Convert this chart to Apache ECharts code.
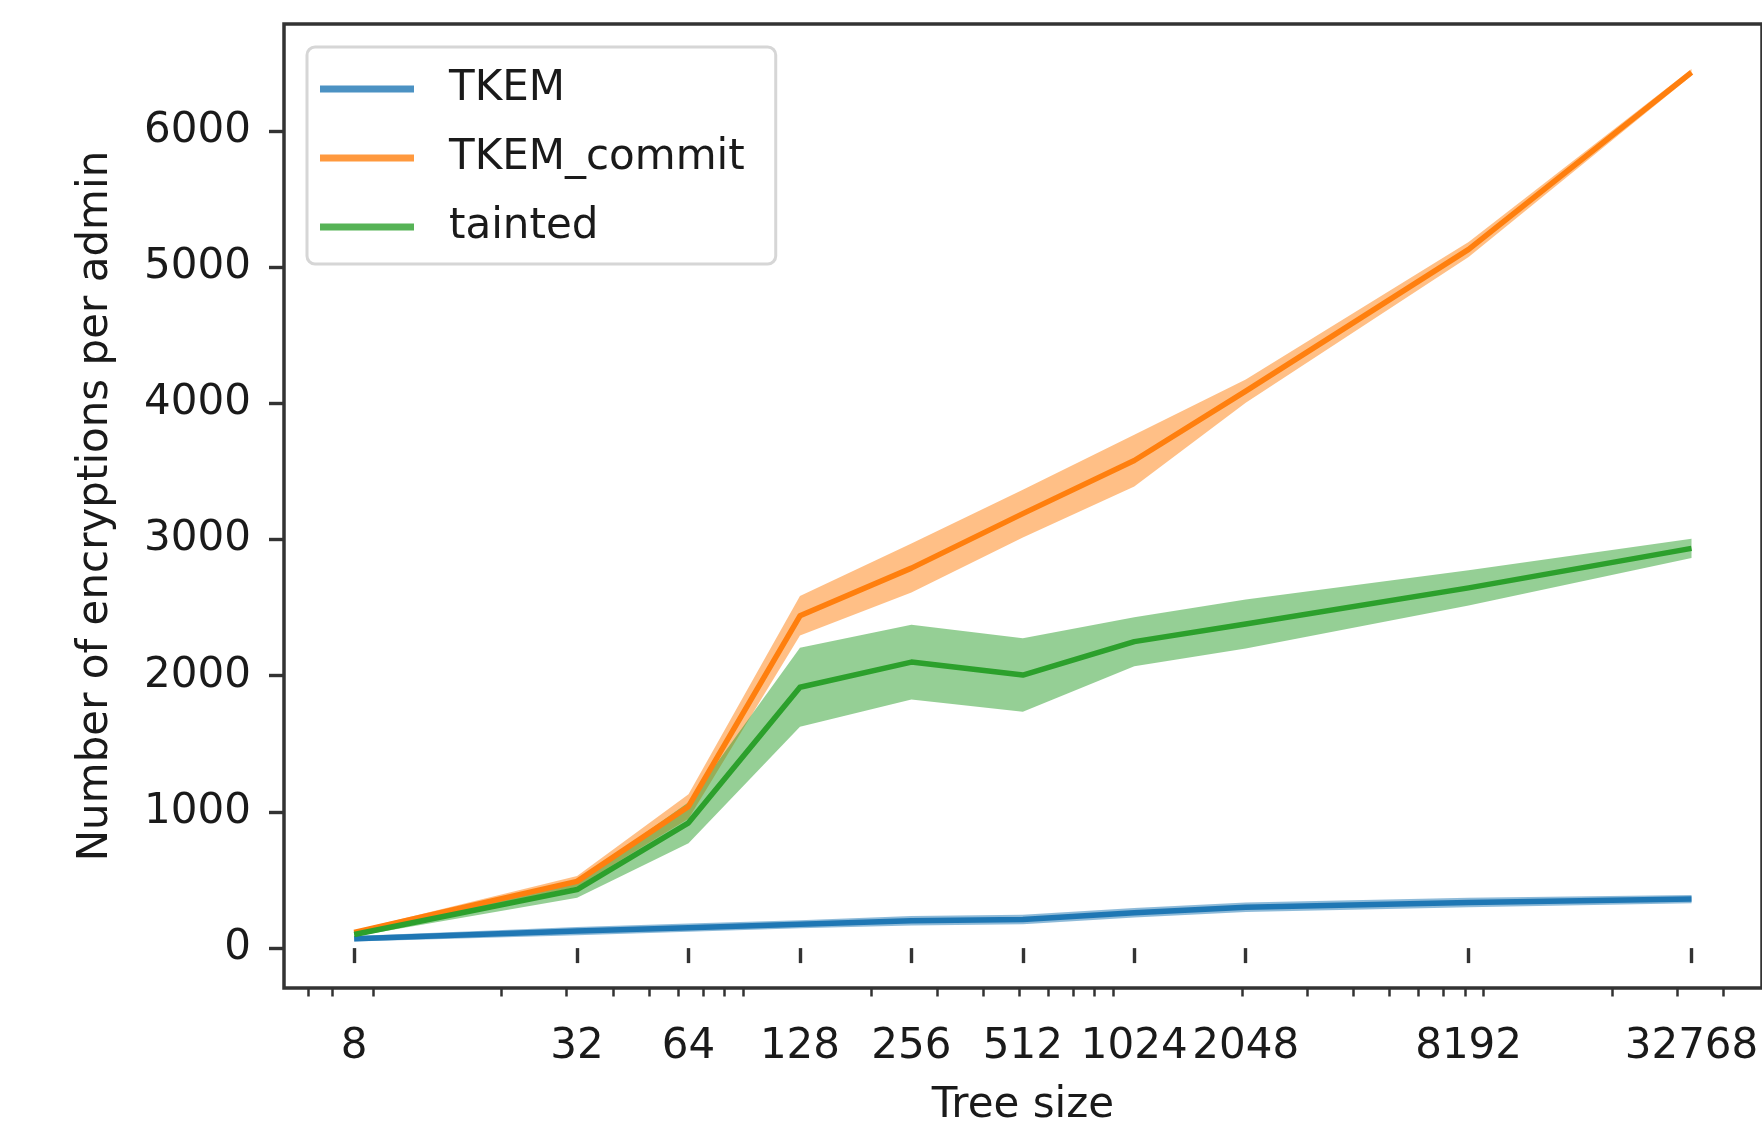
<!DOCTYPE html>
<html><head><meta charset="utf-8">
<script src="https://cdn.jsdelivr.net/npm/echarts@6/dist/echarts.min.js"></script>
<style>html,body{margin:0;padding:0;background:#fff;}#c{width:1762px;height:1132px;}</style>
</head><body><div id="c"></div>
<script>
// ---- data ----
const treeSizes = [8, 32, 64, 128, 256, 512, 1024, 2048, 8192, 32768];
const tkemMean = [68, 125, 150, 175, 200, 210, 260, 300, 335, 360];
const tkemSpread = [20, 30, 30, 30, 35, 35, 35, 35, 35, 30];
const commitMean = [115, 490, 1040, 2440, 2790, 3190, 3580, 4090, 5130, 6430];
const commitSpread = [15, 40, 90, 145, 180, 175, 190, 85, 55, 25];
const taintedMean = [100, 430, 920, 1915, 2100, 2005, 2250, 2380, 2645, 2935];
const taintedSpread = [15, 60, 150, 290, 275, 270, 180, 180, 130, 70];
const xTickLabels = [8, 32, 64, 128, 256, 512, 1024, 2048, 8192, 32768];
const xMinorTicks = [6, 7, 9, 20, 30, 40, 50, 60, 70, 80, 90, 200, 300, 400, 500, 600, 700, 800, 900,
  2000, 3000, 4000, 5000, 6000, 7000, 8000, 9000, 20000, 30000, 40000];
const yTickLabels = [0, 1000, 2000, 3000, 4000, 5000, 6000];
const seriesNames = ['TKEM', 'TKEM_commit', 'tainted'];
const colors = ['#1f77b4', '#ff7f0e', '#2ca02c'];

const FONT = 'DejaVu Sans';
const means = [tkemMean, commitMean, taintedMean];
const spreads = [tkemSpread, commitSpread, taintedSpread];

const series = [];
// shaded bands (drawn below the lines)
means.forEach((m, i) => {
  const rows = treeSizes.map((x, k) => [x, m[k] - spreads[i][k], m[k] + spreads[i][k]]);
  series.push({
    name: seriesNames[i] + '_band', type: 'custom', xAxisIndex: 0, yAxisIndex: 0,
    data: rows, z: 1, silent: true,
    encode: { x: 0, y: [1, 2] },
    renderItem: function (params, api) {
      if (params.dataIndex !== 0) return;
      const upper = rows.map(r => api.coord([r[0], r[2]]));
      const lower = rows.map(r => api.coord([r[0], r[1]])).reverse();
      return {
        type: 'polygon',
        shape: { points: upper.concat(lower) },
        style: { fill: colors[i], opacity: 0.5 }
      };
    }
  });
});
means.forEach((m, i) => {
  series.push({
    name: seriesNames[i], type: 'line', xAxisIndex: 0, yAxisIndex: 0,
    data: treeSizes.map((x, k) => [x, m[k]]),
    symbol: 'none', color: colors[i],
    lineStyle: { width: 5.5, color: colors[i], join: 'round', cap: 'butt' }, z: 2
  });
});

const xMin = 5.17, xMax = 50800;
const chart = echarts.init(document.getElementById('c'), null, { renderer: 'canvas' });
chart.setOption({
  animation: false,
  backgroundColor: '#ffffff',
  grid: { left: 284, top: 24, bottom: 141, right: -12, show: true, borderColor: '#333', borderWidth: 3.5, backgroundColor: 'transparent' },
  legend: {
    data: seriesNames, orient: 'vertical', left: 307, top: 47,
    padding: [18, 31, 13, 13], itemWidth: 94, itemHeight: 7, itemGap: 21, icon: 'rect',
    backgroundColor: '#fff', borderColor: '#d6d6d6', borderWidth: 3, borderRadius: 8,
    itemStyle: { opacity: 0.8 },
    textStyle: { fontFamily: FONT, fontSize: 42, color: '#1a1a1a', lineHeight: 48, padding: [0, 0, 0, 30] }
  },
  xAxis: [{
    type: 'log', logBase: 2, min: xMin, max: xMax,
    name: 'Tree size', nameLocation: 'middle', nameGap: 97,
    nameTextStyle: { fontFamily: FONT, fontSize: 42, color: '#1a1a1a' },
    axisLine: { show: false },
    splitLine: { show: false },
    axisTick: { show: true, customValues: xTickLabels, length: 15, lineStyle: { color: '#333', width: 3.4 } },
    axisLabel: { customValues: xTickLabels, margin: 38, fontFamily: FONT, fontSize: 42, color: '#1a1a1a', formatter: v => String(Math.round(v)) }
  }, {
    type: 'log', logBase: 2, min: xMin, max: xMax, position: 'bottom',
    axisLine: { show: false }, splitLine: { show: false },
    axisTick: { show: true, customValues: xMinorTicks, length: 8.5, lineStyle: { color: '#333', width: 2.5 } },
    axisLabel: { show: false }
  }],
  yAxis: [{
    type: 'value', min: -293, max: 6785,
    name: 'Number of encryptions per admin', nameLocation: 'middle', nameGap: 167,
    nameTextStyle: { fontFamily: FONT, fontSize: 42, color: '#1a1a1a' },
    axisLine: { show: false }, splitLine: { show: false },
    axisTick: { show: true, customValues: yTickLabels, length: 15, lineStyle: { color: '#333', width: 3.4 } },
    axisLabel: { customValues: yTickLabels, margin: 33, fontFamily: FONT, fontSize: 42, color: '#1a1a1a', formatter: v => String(v) }
  }],
  series: series
});
</script></body></html>
